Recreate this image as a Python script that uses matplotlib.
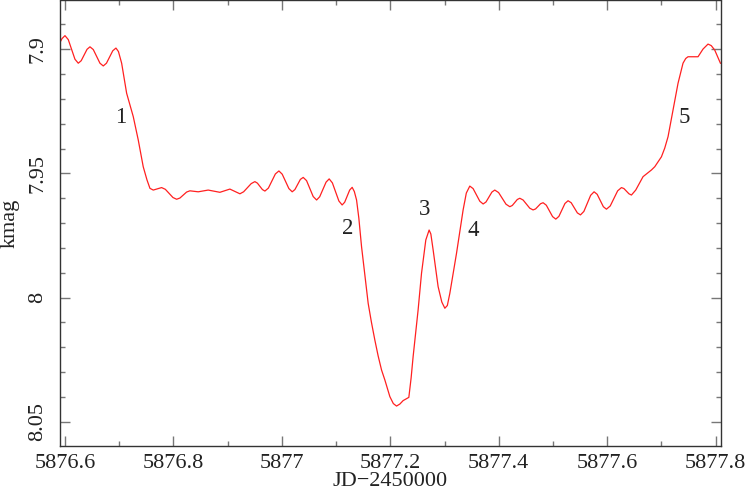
import matplotlib
matplotlib.use("Agg")
import matplotlib.pyplot as plt
from matplotlib.ticker import MultipleLocator, FixedFormatter, FixedLocator

# Light curve
jd = [5876.5899, 5876.5945, 5876.6000, 5876.6061, 5876.6184, 5876.6245, 5876.6299,
      5876.6407, 5876.6461, 5876.6522, 5876.6645, 5876.6706, 5876.6765, 5876.6881,
      5876.6940, 5876.6986, 5876.7045, 5876.7137, 5876.7259, 5876.7351, 5876.7443,
      5876.7512, 5876.7567, 5876.7628, 5876.7782, 5876.7851, 5876.7991, 5876.8059,
      5876.8120, 5876.8243, 5876.8304, 5876.8457, 5876.8641, 5876.8857, 5876.9041,
      5876.9226, 5876.9294, 5876.9434, 5876.9502, 5876.9548, 5876.9641, 5876.9687,
      5876.9751, 5876.9880, 5876.9945, 5877.0006, 5877.0129, 5877.0190, 5877.0240,
      5877.0341, 5877.0393, 5877.0455, 5877.0577, 5877.0640, 5877.0697, 5877.0815,
      5877.0872, 5877.0931, 5877.1051, 5877.1111, 5877.1158, 5877.1250, 5877.1296,
      5877.1336, 5877.1377, 5877.1419, 5877.1469, 5877.1530, 5877.1591, 5877.1650,
      5877.1714, 5877.1775, 5877.1838, 5877.1899, 5877.1991, 5877.2055, 5877.2114,
      5877.2175, 5877.2236, 5877.2341, 5877.2383, 5877.2420, 5877.2512, 5877.2575,
      5877.2654, 5877.2715, 5877.2747, 5877.2789, 5877.2881, 5877.2949, 5877.3005,
      5877.3051, 5877.3097, 5877.3220, 5877.3342, 5877.3401, 5877.3465, 5877.3526,
      5877.3589, 5877.3650, 5877.3711, 5877.3764, 5877.3873, 5877.3926, 5877.3996,
      5877.4133, 5877.4203, 5877.4249, 5877.4341, 5877.4387, 5877.4448, 5877.4571,
      5877.4632, 5877.4678, 5877.4770, 5877.4817, 5877.4876, 5877.4992, 5877.5051,
      5877.5108, 5877.5220, 5877.5277, 5877.5335, 5877.5449, 5877.5506, 5877.5569,
      5877.5694, 5877.5757, 5877.5814, 5877.5928, 5877.5985, 5877.6055, 5877.6192,
      5877.6262, 5877.6308, 5877.6400, 5877.6446, 5877.6525, 5877.6660, 5877.6815,
      5877.6876, 5877.6999, 5877.7060, 5877.7121, 5877.7213, 5877.7305, 5877.7397,
      5877.7447, 5877.7489, 5877.7674, 5877.7766, 5877.7858, 5877.7917, 5877.7982,
      5877.8087]
kmag = [7.8976, 7.8957, 7.8945, 7.8961, 7.9040, 7.9056, 7.9046,
        7.9000, 7.8990, 7.9001, 7.9056, 7.9067, 7.9056, 7.9006,
        7.8995, 7.9009, 7.9056, 7.9177, 7.9271, 7.9365, 7.9473,
        7.9526, 7.9560, 7.9567, 7.9557, 7.9564, 7.9597, 7.9604,
        7.9599, 7.9575, 7.9570, 7.9574, 7.9567, 7.9576, 7.9563,
        7.9582, 7.9574, 7.9541, 7.9533, 7.9539, 7.9565, 7.9571,
        7.9559, 7.9502, 7.9490, 7.9503, 7.9561, 7.9574, 7.9565,
        7.9524, 7.9516, 7.9529, 7.9593, 7.9607, 7.9594, 7.9535,
        7.9522, 7.9538, 7.9611, 7.9627, 7.9616, 7.9567, 7.9556,
        7.9573, 7.9607, 7.9680, 7.9795, 7.9909, 8.0023, 8.0098,
        8.0171, 8.0235, 8.0292, 8.0332, 8.0399, 8.0427, 8.0437,
        8.0429, 8.0415, 8.0402, 8.0324, 8.0238, 8.0050, 7.9902,
        7.9768, 7.9728, 7.9744, 7.9808, 7.9956, 8.0018, 8.0043,
        8.0032, 7.9983, 7.9822, 7.9647, 7.9579, 7.9551, 7.9561,
        7.9587, 7.9612, 7.9623, 7.9615, 7.9575, 7.9567, 7.9577,
        7.9624, 7.9634, 7.9629, 7.9605, 7.9600, 7.9607, 7.9640,
        7.9647, 7.9643, 7.9622, 7.9618, 7.9628, 7.9674, 7.9684,
        7.9673, 7.9621, 7.9610, 7.9618, 7.9659, 7.9667, 7.9653,
        7.9588, 7.9574, 7.9584, 7.9634, 7.9644, 7.9631, 7.9570,
        7.9557, 7.9561, 7.9582, 7.9587, 7.9567, 7.9513, 7.9486,
        7.9473, 7.9433, 7.9398, 7.9352, 7.9244, 7.9137, 7.9056,
        7.9037, 7.9030, 7.9030, 7.8999, 7.8979, 7.8985, 7.9003,
        7.9056]

# Numbered markers
mark_labels = ["1", "2", "3", "4", "5"]
mark_x = [5876.7032, 5877.1222, 5877.2636, 5877.3526, 5877.7429]
mark_y = [7.9274, 7.9721, 7.9644, 7.9728, 7.9274]

x_ticks = [5876.6, 5876.8, 5877.0, 5877.2, 5877.4, 5877.6, 5877.8]
x_tick_labels = ["5876.6", "5876.8", "5877", "5877.2", "5877.4", "5877.6", "5877.8"]
y_ticks = [7.9, 7.95, 8.0, 8.05]
y_tick_labels = ["7.9", "7.95", "8", "8.05"]

FONT = "Liberation Serif"

fig = plt.figure(figsize=(7.47, 4.90), dpi=100)
ax = fig.add_axes([59.5 / 747, 1 - 445.7 / 490, (720.7 - 59.5) / 747, (445.7 - 0.5) / 490])

ax.plot(jd, kmag, color="#ff2020", lw=0.9)

for s, xx, yy in zip(mark_labels, mark_x, mark_y):
    ax.text(xx, yy, s, ha="center", va="center", fontsize=16.5, family=FONT, color="#222222")

ax.set_xlim(5876.5899, 5877.8092)
ax.set_ylim(8.05967, 7.88034)

ax.xaxis.set_major_locator(FixedLocator(x_ticks))
ax.xaxis.set_major_formatter(FixedFormatter(x_tick_labels))
ax.xaxis.set_minor_locator(MultipleLocator(0.1))
ax.yaxis.set_major_locator(FixedLocator(y_ticks))
ax.yaxis.set_major_formatter(FixedFormatter(y_tick_labels))
ax.yaxis.set_minor_locator(MultipleLocator(0.01))

ax.tick_params(which="both", direction="in", top=True, right=True, color="#777777", width=1.0)
ax.tick_params(which="major", length=7, pad=6)
ax.tick_params(which="minor", length=3.6)
ax.tick_params(axis="y", which="major", pad=9)

for lab in ax.get_xticklabels():
    lab.set_fontfamily(FONT)
    lab.set_fontsize(16)
    lab.set_color("#222222")
for lab in ax.get_yticklabels():
    lab.set_fontfamily(FONT)
    lab.set_fontsize(16)
    lab.set_rotation(90)
    lab.set_va("center")
    lab.set_color("#222222")

for sp in ax.spines.values():
    sp.set_color("#333333")
    sp.set_linewidth(1.0)

xl = ax.set_xlabel("JD\u22122450000", family=FONT, fontsize=16, color="#222222")
xl.set_va("baseline")
ax.xaxis.set_label_coords(0.5, -40.0 / 445.2)
ax.set_ylabel("kmag", family=FONT, fontsize=16, color="#222222", labelpad=6)

fig.savefig("out.png", dpi=100)
